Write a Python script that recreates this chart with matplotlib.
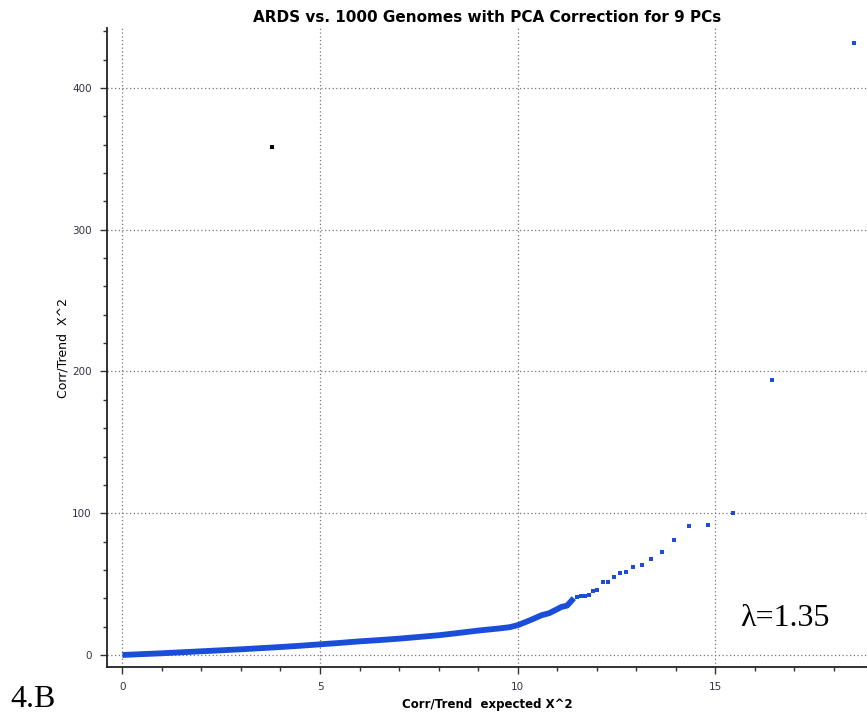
import matplotlib
matplotlib.use('Agg')
import matplotlib.pyplot as plt
from matplotlib.ticker import MultipleLocator

plt.rcParams['font.family'] = 'DejaVu Sans'

# dense part of the QQ curve (reads as a thick line)
dense_x = [0, 0.5, 1, 1.5, 2, 2.5, 3, 3.5, 4, 4.5, 5, 5.5, 6, 6.5, 7, 7.5, 8, 8.5,
           9, 9.5, 9.8, 10, 10.2, 10.4, 10.6, 10.8, 11.0, 11.1, 11.25, 11.34, 11.42]
dense_y = [0, 0.6, 1.2, 1.9, 2.6, 3.3, 4.0, 4.8, 5.6, 6.5, 7.5, 8.5, 9.6, 10.5, 11.5,
           12.7, 13.9, 15.5, 17.2, 18.6, 19.6, 21.0, 23.2, 25.5, 28.0, 29.5, 32.3,
           33.8, 34.8, 37.5, 40.1]

# sparse tail points
tail_x = [11.5, 11.6, 11.7, 11.8, 11.9, 12.0, 12.15, 12.29, 12.43, 12.58, 12.75,
          12.93, 13.14, 13.38, 13.65, 13.95, 14.34, 14.82, 15.45, 16.43, 18.5]
tail_y = [41.2, 41.5, 41.8, 42.5, 45.3, 46.1, 51.3, 51.8, 55.3, 57.7, 58.5,
          62.4, 63.6, 67.8, 72.5, 81.3, 91.3, 92.0, 100.2, 193.9, 432.0]

# lone black point
outlier_x = [3.78]
outlier_y = [358.6]

blue = '#1a4ed8'

fig = plt.figure(figsize=(8.67, 7.13), dpi=100)
ax = fig.add_axes([0.1234, 0.0645, 0.8766, 0.8962])

ax.plot(dense_x, dense_y, color=blue, lw=4.2, solid_capstyle='butt', zorder=3)
ax.plot(tail_x, tail_y, 's', color=blue, ms=3.4, mew=0, zorder=3)
ax.plot(outlier_x, outlier_y, 's', color='black', ms=2.8, mew=0, zorder=3)

ax.set_xlim(-0.39, 18.84)
ax.set_ylim(-8.5, 442.3)
ax.xaxis.set_major_locator(MultipleLocator(5))
ax.xaxis.set_minor_locator(MultipleLocator(1))
ax.yaxis.set_major_locator(MultipleLocator(100))
ax.yaxis.set_minor_locator(MultipleLocator(20))

ax.grid(True, which='major', linestyle=(0, (1, 2)), color='#777777', lw=0.9)
for side in ['top', 'right']:
    ax.spines[side].set_visible(False)
for side in ['left', 'bottom']:
    ax.spines[side].set_linewidth(1.3)
    ax.spines[side].set_color('#222222')

ax.tick_params(which='major', length=5, width=1, color='#333333',
               labelsize=7.5, labelcolor='#333344', pad=6)
ax.tick_params(which='minor', length=3, width=1, color='#333333')

ax.set_title('ARDS vs. 1000 Genomes with PCA Correction for 9 PCs',
             fontsize=11, fontweight='bold', pad=4)
ax.set_xlabel('Corr/Trend  expected X^2', fontsize=8.5, fontweight='bold', labelpad=4)
ax.set_ylabel('Corr/Trend  X^2', fontsize=9, labelpad=2)

ax.text(785 / 867, 1 - 619 / 713, 'λ=1.35', transform=fig.transFigure, fontsize=23,
        family='Liberation Serif', ha='center', va='center')
fig.text(10 / 867, 1 - 707 / 713, '4.B', fontsize=23, family='Liberation Serif',
         ha='left', va='baseline')

fig.savefig('out.png', dpi=100)
